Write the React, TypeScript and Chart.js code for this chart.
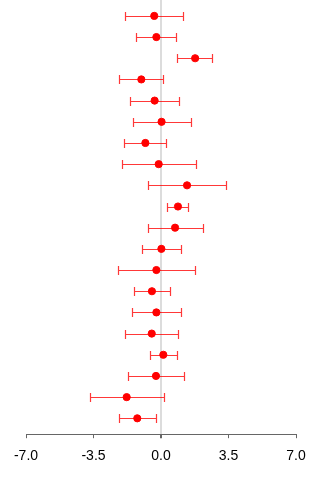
import React, { useEffect, useRef } from "react";
import { Chart, registerables } from "chart.js";

Chart.register(...registerables);

// One row per study, top to bottom
const rows = [
  "1", "2", "3", "4", "5", "6", "7", "8", "9", "10",
  "11", "12", "13", "14", "15", "16", "17", "18", "19", "20",
];
const estimates = [
  -0.35, -0.24, 1.77, -1.02, -0.33, 0.03, -0.81, -0.12, 1.35, 0.88,
  0.73, 0.02, -0.24, -0.47, -0.24, -0.48, 0.12, -0.26, -1.78, -1.23,
];
const lower = [
  -1.85, -1.28, 0.81, -2.16, -1.59, -1.47, -1.9, -2.04, -0.69, 0.33,
  -0.69, -1.0, -2.25, -1.38, -1.52, -1.85, -0.57, -1.7, -3.7, -2.16,
];
const upper = [
  1.16, 0.8, 2.67, 0.12, 0.95, 1.58, 0.26, 1.82, 3.39, 1.42,
  2.16, 1.05, 1.78, 0.48, 1.05, 0.9, 0.81, 1.19, 0.14, -0.28,
];
const xTicks = [-7, -3.5, 0, 3.5, 7];

const RED = "rgb(255,0,0)";
const BAR = "rgba(255,0,0,0.78)";

// Horizontal confidence-interval whiskers with end caps
const errorBars = {
  id: "errorBars",
  beforeDatasetsDraw(chart: any) {
    const { ctx, scales } = chart;
    const x = scales.x;
    const y = scales.y;
    ctx.save();
    ctx.strokeStyle = BAR;
    ctx.lineWidth = 1.2;
    rows.forEach((_, i) => {
      const py = Math.round(y.getPixelForValue(i + 1)) + 0.5;
      const x0 = Math.round(x.getPixelForValue(lower[i])) + 0.5;
      const x1 = Math.round(x.getPixelForValue(upper[i])) + 0.5;
      ctx.beginPath();
      ctx.moveTo(x0, py);
      ctx.lineTo(x1, py);
      ctx.moveTo(x0, py - 4.5);
      ctx.lineTo(x0, py + 4.5);
      ctx.moveTo(x1, py - 4.5);
      ctx.lineTo(x1, py + 4.5);
      ctx.stroke();
    });
    ctx.restore();
  },
};

export default function App() {
  const ref = useRef<HTMLCanvasElement>(null);

  useEffect(() => {
    if (!ref.current) return;
    const chart = new Chart(ref.current, {
      type: "scatter",
      data: {
        datasets: [
          {
            data: estimates.map((v, i) => ({ x: v, y: i + 1 })),
            backgroundColor: RED,
            borderColor: RED,
            pointRadius: 3.6,
            pointHoverRadius: 3.6,
          },
        ],
      },
      options: {
        responsive: false,
        animation: false,
        events: [],
        layout: { autoPadding: false, padding: { left: 26, right: 24, top: 0, bottom: 5 } },
        plugins: { legend: { display: false }, tooltip: { enabled: false } },
        scales: {
          x: {
            type: "linear",
            min: -7,
            max: 7,
            afterBuildTicks: (s: any) => {
              s.ticks = xTicks.map((v) => ({ value: v }));
            },
            border: { display: true, color: "#666", width: 1 },
            grid: {
              drawOnChartArea: true,
              drawTicks: true,
              tickLength: 4,
              tickColor: "#666",
              color: (c: any) => (c.tick && c.tick.value === 0 ? "#dcdcdc" : "rgba(0,0,0,0)"),
              lineWidth: (c: any) => (c.tick && c.tick.value === 0 ? 2 : 1),
            },
            ticks: {
              color: "#000",
              padding: 10,
              font: { family: "'Liberation Sans', Arial, sans-serif", size: 14 },
              callback: (v: any) => Number(v).toFixed(1),
            },
          },
          y: {
            type: "linear",
            display: false,
            reverse: true,
            min: 0.25,
            max: 20.75,
          },
        },
      },
      plugins: [errorBars],
    });
    return () => chart.destroy();
  }, []);

  return (
    <div style={{ position: "fixed", left: 0, top: 0, width: 320, height: 480, background: "#fff" }}>
      <canvas ref={ref} width={320} height={480} />
    </div>
  );
}
